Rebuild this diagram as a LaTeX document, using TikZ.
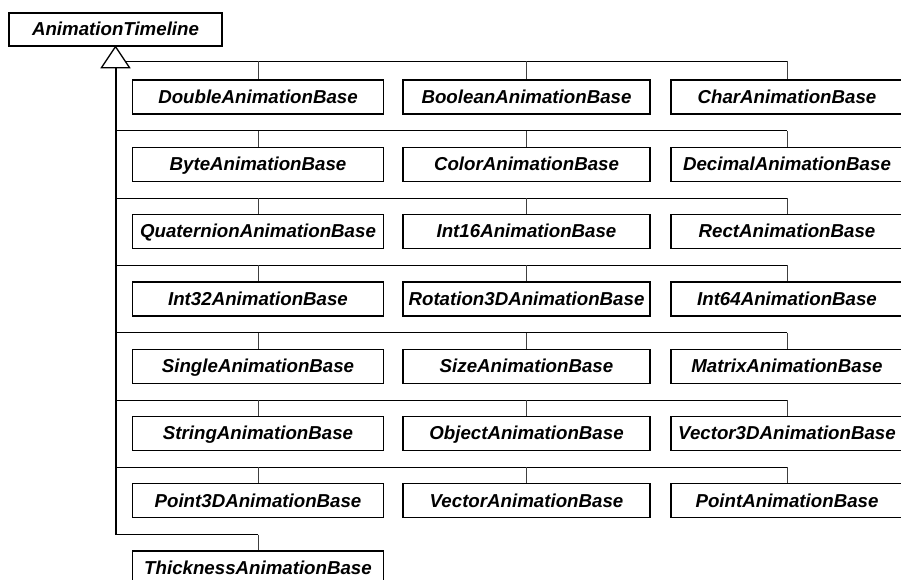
\documentclass[tikz,border=0pt]{standalone}
\usepackage{fontspec}
\setmainfont{Liberation Sans}
\usetikzlibrary{positioning}

\tikzset{
  cls/.style={draw, line width=1.3pt, fill=white, inner sep=0pt, minimum height=34pt,
    text height=15pt, text depth=2.3pt,
    font=\fontsize{18.7}{22}\selectfont\bfseries\itshape},
  colA/.style={cls, minimum width=251pt},
  colB/.style={cls, minimum width=247pt},
  colC/.style={cls, minimum width=232pt},
  bus/.style={line width=1pt},
  drop/.style={line width=0.8pt, black!75},
  trunk/.style={line width=1.6pt}
}

\begin{document}
\begin{tikzpicture}[x=1pt,y=1pt,yscale=-1,xscale=1]
\useasboundingbox (0,0) rectangle (901,579);
\clip (0,0) rectangle (901,579);

%Base class
\node [cls, minimum width=213pt, minimum height=33pt] (tl) at (115.5,29.5) {AnimationTimeline};

%Row 1
\node [colA] (dbl) at (258,97) {DoubleAnimationBase};
\node [colB] (bool) at (526.5,97) {BooleanAnimationBase};
\node [colC] (chr) at (787,97) {CharAnimationBase};
%Row 2
\node [colA] (byte) at (258,164.3) {ByteAnimationBase};
\node [colB] (color) at (526.5,164.3) {ColorAnimationBase};
\node [colC] (dec) at (787,164.3) {DecimalAnimationBase};
%Row 3
\node [colA] (quat) at (258,231.6) {QuaternionAnimationBase};
\node [colB] (int16) at (526.5,231.6) {Int16AnimationBase};
\node [colC] (rect) at (787,231.6) {RectAnimationBase};
%Row 4
\node [colA] (int32) at (258,298.9) {Int32AnimationBase};
\node [colB] (rot) at (526.5,298.9) {Rotation3DAnimationBase};
\node [colC] (int64) at (787,298.9) {Int64AnimationBase};
%Row 5
\node [colA] (single) at (258,366.2) {SingleAnimationBase};
\node [colB] (size) at (526.5,366.2) {SizeAnimationBase};
\node [colC] (matrix) at (787,366.2) {MatrixAnimationBase};
%Row 6
\node [colA] (str) at (258,433.5) {StringAnimationBase};
\node [colB] (obj) at (526.5,433.5) {ObjectAnimationBase};
\node [colC] (vec3d) at (787,433.5) {Vector3DAnimationBase};
%Row 7
\node [colA] (pt3d) at (258,500.8) {Point3DAnimationBase};
\node [colB] (vec) at (526.5,500.8) {VectorAnimationBase};
\node [colC] (pt) at (787,500.8) {PointAnimationBase};
%Row 8
\node [colA] (thick) at (258,568.1) {ThicknessAnimationBase};

%Bus points on the trunk
\coordinate (b1) at (116,61);
\coordinate (b2) at (116,130.8);
\coordinate (b3) at (116,198.1);
\coordinate (b4) at (116,265.4);
\coordinate (b5) at (116,332.7);
\coordinate (b6) at (116,400);
\coordinate (b7) at (116,467.3);
\coordinate (b8) at (116,534.6);

%Buses
\draw [bus] (b1) -- (b1 -| chr.north);
\draw [bus] (b2) -- (b2 -| dec.north);
\draw [bus] (b3) -- (b3 -| rect.north);
\draw [bus] (b4) -- (b4 -| int64.north);
\draw [bus] (b5) -- (b5 -| matrix.north);
\draw [bus] (b6) -- (b6 -| vec3d.north);
\draw [bus] (b7) -- (b7 -| pt.north);
\draw [bus] (b8) -- (b8 -| thick.north);

%Drops
\draw [drop] (b1 -| dbl.north) -- (dbl.north);
\draw [drop] (b1 -| bool.north) -- (bool.north);
\draw [drop] (b1 -| chr.north) -- (chr.north);
\draw [drop] (b2 -| byte.north) -- (byte.north);
\draw [drop] (b2 -| color.north) -- (color.north);
\draw [drop] (b2 -| dec.north) -- (dec.north);
\draw [drop] (b3 -| quat.north) -- (quat.north);
\draw [drop] (b3 -| int16.north) -- (int16.north);
\draw [drop] (b3 -| rect.north) -- (rect.north);
\draw [drop] (b4 -| int32.north) -- (int32.north);
\draw [drop] (b4 -| rot.north) -- (rot.north);
\draw [drop] (b4 -| int64.north) -- (int64.north);
\draw [drop] (b5 -| single.north) -- (single.north);
\draw [drop] (b5 -| size.north) -- (size.north);
\draw [drop] (b5 -| matrix.north) -- (matrix.north);
\draw [drop] (b6 -| str.north) -- (str.north);
\draw [drop] (b6 -| obj.north) -- (obj.north);
\draw [drop] (b6 -| vec3d.north) -- (vec3d.north);
\draw [drop] (b7 -| pt3d.north) -- (pt3d.north);
\draw [drop] (b7 -| vec.north) -- (vec.north);
\draw [drop] (b7 -| pt.north) -- (pt.north);
\draw [drop] (b8 -| thick.north) -- (thick.north);

%Trunk and generalization triangle
\draw [trunk] (b1) -- (b8);
\draw [line width=1.3pt, fill=white] (tl.south) -- ++(14,21) -- ++(-28,0) -- cycle;

\end{tikzpicture}
\end{document}
